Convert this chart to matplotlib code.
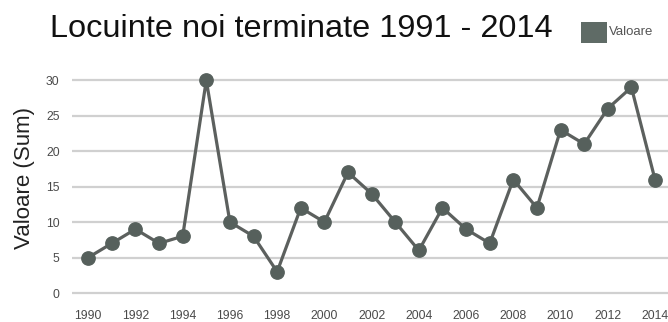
import matplotlib
matplotlib.use("Agg")
import matplotlib.pyplot as plt
from matplotlib.patches import Rectangle

years = list(range(1990, 2015))
values = [5, 7, 9, 7, 8, 30, 10, 8, 3, 12, 10, 17, 14, 10, 6, 12, 9, 7, 16, 12, 23, 21, 26, 29, 16]
xticks = list(range(1990, 2015, 2))
yticks = [0, 5, 10, 15, 20, 25, 30]
series_name = 'Valoare'

plt.rcParams['font.family'] = ['Liberation Sans', 'DejaVu Sans']

fig = plt.figure(figsize=(6.68, 3.22), dpi=100)
ax = fig.add_axes([0.108, 0.068, 0.892, 0.705])

ax.plot(years, values, color='#5c605e', lw=2.3, marker='o', markersize=9.6,
        markerfacecolor='#56605c', markeredgecolor='#56605c', zorder=3)

ax.set_xlim(1989.32, 2014.55)
ax.set_ylim(-1, 31)
ax.set_xticks(xticks)
ax.set_yticks(yticks)
ax.tick_params(axis='both', length=0, labelsize=8.8, labelcolor='#4a4a4a')
ax.tick_params(axis='x', pad=7)
ax.tick_params(axis='y', pad=9)
for s in ax.spines.values():
    s.set_visible(False)
ax.grid(axis='y', color='#d0d0d0', lw=1.6)
ax.set_axisbelow(True)

ax.set_ylabel('Valoare (Sum)', fontsize=16, color='#222222')
ax.yaxis.set_label_coords(-0.063, 0.54)

fig.text(0.4506, 1 - 37 / 322, 'Locuinte noi terminate 1991 - 2014', fontsize=23.4,
         ha='center', va='baseline', color='#111111')

# legend
fig.add_artist(Rectangle((581 / 668, 1 - 43 / 322), 26 / 668, 21 / 322,
                         transform=fig.transFigure, facecolor='#5f6b66', edgecolor='none'))
fig.text(609 / 668, 1 - 32 / 322, series_name, fontsize=9.5, color='#555555',
         ha='left', va='center')

fig.savefig('out.png', dpi=100)
